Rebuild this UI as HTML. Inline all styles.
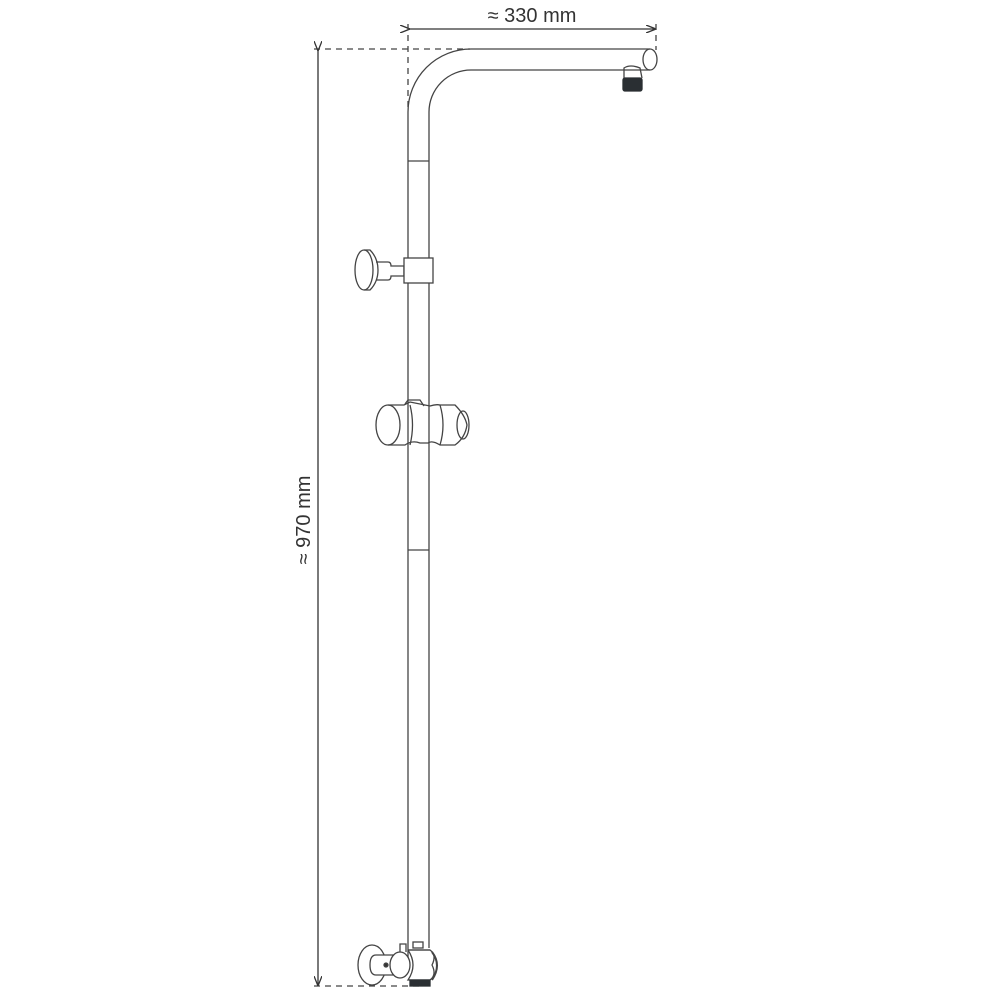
<!DOCTYPE html>
<html><head><style>html,body{margin:0;padding:0;background:#fff}svg{display:block}</style></head>
<body>
<svg width="992" height="992" viewBox="0 0 992 992" xmlns="http://www.w3.org/2000/svg">
<defs>
<marker id="ah" markerWidth="10" markerHeight="8" refX="9" refY="4" orient="auto" markerUnits="userSpaceOnUse"><path d="M0,0 L10,4 L0,8" fill="none" stroke="#333" stroke-width="1.3"/></marker>
</defs>
<g fill="none" stroke="#444" stroke-width="1.3">
<line x1="409" y1="29" x2="655" y2="29" marker-start="url(#ah)" marker-end="url(#ah)" stroke="#333"/>
<line x1="408" y1="24" x2="408" y2="112" stroke-dasharray="6,5"/>
<line x1="656" y1="24" x2="656" y2="50" stroke-dasharray="6,5"/>
<line x1="314" y1="49" x2="470" y2="49" stroke-dasharray="6,5"/>
<line x1="314" y1="986" x2="424" y2="986" stroke-dasharray="6,5"/>
<line x1="318" y1="50" x2="318" y2="985" marker-start="url(#ah)" marker-end="url(#ah)" stroke="#333"/>
<path d="M408,960 L408,112 A63,63 0 0 1 471,49 L650,49"/>
<path d="M429,948 L429,112 A42,42 0 0 1 471,70 L650,70"/>
<ellipse cx="650" cy="59.5" rx="7" ry="10.5"/>
<line x1="408" y1="161" x2="429" y2="161"/>
<line x1="408" y1="550" x2="429" y2="550"/>
<path d="M624,78 L624,68 Q630,64 640,68 L642,78"/>
<rect x="623" y="78" width="19" height="13" rx="2" fill="#2a2f33" stroke="#2a2f33"/>
<ellipse cx="364" cy="270" rx="9" ry="20"/>
<path d="M364,250 L370,250 Q378,258 378,270 Q378,282 370,290 L364,290"/>
<path d="M376,262 L388,262 Q391,262 391,266 L404,266 L404,276 L391,276 Q391,280 388,280 L376,280"/>
<rect x="404" y="258" width="29" height="25" fill="#fff"/>
<ellipse cx="388" cy="425" rx="12" ry="20" fill="#fff"/>
<path d="M388,405 L404,405 L410,402 L430,406 Q436,404 440,405 L455,405 Q465,415 467,425 Q465,438 455,445 L440,445 Q432,440 428,443 L420,443 Q412,440 405,445 L388,445"/>
<path d="M410,405 Q415,425 410,445"/>
<path d="M440,405 Q446,425 440,445"/>
<path d="M405,404 L408,400 L420,400 L424,406"/>
<ellipse cx="463" cy="425" rx="6" ry="14"/>
<line x1="408" y1="950" x2="430" y2="950"/>
<rect x="413" y="942" width="10" height="6"/>
<ellipse cx="372" cy="965" rx="14" ry="20" fill="#fff"/>
<path d="M376,955 Q370,955 370,965 Q370,975 376,975 L396,975 L396,955 Z" fill="#fff"/>
<circle cx="386" cy="965" r="2" fill="#333"/>
<ellipse cx="400" cy="965" rx="10" ry="13" fill="#fff"/>
<path d="M400,952 L400,944 L406,944 L406,952"/>
<path d="M408,950 L430,950 Q437,955 432,965 Q437,975 430,980 L408,980 Q418,965 408,950"/>
<path d="M432,952 Q442,965 432,980" stroke-width="2"/>
<rect x="410" y="980" width="20" height="6" fill="#2a2f33" stroke="#2a2f33"/>
</g>
<text x="532" y="22" font-family="Liberation Sans, sans-serif" font-size="20" fill="#333" text-anchor="middle">≈ 330 mm</text>
<text transform="translate(310,520) rotate(-90)" font-family="Liberation Sans, sans-serif" font-size="20" fill="#333" text-anchor="middle">≈ 970 mm</text>
</svg>
</body></html>
